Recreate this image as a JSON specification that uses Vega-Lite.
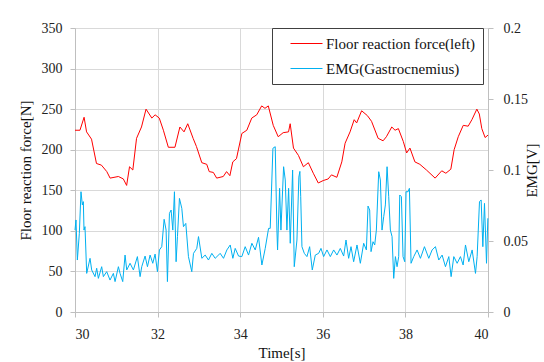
{
  "$schema": "https://vega.github.io/schema/vega-lite/v6.json",
  "width": 413,
  "height": 284,
  "autosize": {"type": "none"},
  "padding": {"left": 75, "top": 28, "right": 56, "bottom": 50},
  "background": "white",
  "config": {
    "font": "Liberation Serif",
    "view": {"stroke": null},
    "axis": {
      "labelFont": "Liberation Serif",
      "titleFont": "Liberation Serif",
      "labelFontSize": 14,
      "titleFontSize": 15,
      "titleFontWeight": "normal",
      "labelColor": "#222222",
      "titleColor": "#111111",
      "domainColor": "#bfbfbf",
      "tickColor": "#bfbfbf",
      "gridColor": "#d9d9d9",
      "tickSize": 5
    },
    "legend": {"labelFont": "Liberation Serif"}
  },
  "datasets": {
    "force": [
      {"t": 30.0, "v": 224}, {"t": 30.12, "v": 224}, {"t": 30.22, "v": 240}, {"t": 30.28, "v": 222},
      {"t": 30.4, "v": 213}, {"t": 30.52, "v": 183}, {"t": 30.64, "v": 181}, {"t": 30.77, "v": 173},
      {"t": 30.85, "v": 165}, {"t": 31.05, "v": 167}, {"t": 31.17, "v": 164}, {"t": 31.25, "v": 156},
      {"t": 31.32, "v": 179}, {"t": 31.4, "v": 175}, {"t": 31.49, "v": 214}, {"t": 31.61, "v": 228},
      {"t": 31.72, "v": 250}, {"t": 31.86, "v": 239}, {"t": 31.94, "v": 243}, {"t": 32.04, "v": 239},
      {"t": 32.14, "v": 224}, {"t": 32.26, "v": 203}, {"t": 32.42, "v": 203}, {"t": 32.54, "v": 228},
      {"t": 32.64, "v": 222}, {"t": 32.73, "v": 232}, {"t": 32.86, "v": 214}, {"t": 32.94, "v": 204},
      {"t": 33.07, "v": 184}, {"t": 33.19, "v": 182}, {"t": 33.25, "v": 173}, {"t": 33.35, "v": 172},
      {"t": 33.43, "v": 165}, {"t": 33.59, "v": 167}, {"t": 33.67, "v": 173}, {"t": 33.75, "v": 168},
      {"t": 33.82, "v": 185}, {"t": 33.91, "v": 189}, {"t": 34.04, "v": 220}, {"t": 34.16, "v": 224},
      {"t": 34.28, "v": 239}, {"t": 34.4, "v": 243}, {"t": 34.52, "v": 254}, {"t": 34.6, "v": 251},
      {"t": 34.68, "v": 254}, {"t": 34.8, "v": 230}, {"t": 34.92, "v": 216}, {"t": 35.04, "v": 221},
      {"t": 35.17, "v": 222}, {"t": 35.21, "v": 232}, {"t": 35.29, "v": 202}, {"t": 35.41, "v": 193},
      {"t": 35.53, "v": 179}, {"t": 35.65, "v": 184}, {"t": 35.77, "v": 171}, {"t": 35.89, "v": 159},
      {"t": 36.01, "v": 162}, {"t": 36.13, "v": 164}, {"t": 36.21, "v": 169}, {"t": 36.34, "v": 166},
      {"t": 36.46, "v": 185}, {"t": 36.54, "v": 208}, {"t": 36.66, "v": 222}, {"t": 36.76, "v": 237},
      {"t": 36.82, "v": 233}, {"t": 36.94, "v": 248}, {"t": 37.08, "v": 242}, {"t": 37.18, "v": 235},
      {"t": 37.34, "v": 214}, {"t": 37.46, "v": 211}, {"t": 37.54, "v": 216}, {"t": 37.67, "v": 228},
      {"t": 37.75, "v": 224}, {"t": 37.83, "v": 226}, {"t": 37.95, "v": 210}, {"t": 38.03, "v": 196},
      {"t": 38.11, "v": 202}, {"t": 38.23, "v": 185}, {"t": 38.35, "v": 182}, {"t": 38.51, "v": 175},
      {"t": 38.72, "v": 165}, {"t": 38.88, "v": 174}, {"t": 38.98, "v": 171}, {"t": 39.1, "v": 176},
      {"t": 39.18, "v": 200}, {"t": 39.28, "v": 216}, {"t": 39.4, "v": 230}, {"t": 39.52, "v": 229},
      {"t": 39.61, "v": 237}, {"t": 39.73, "v": 250}, {"t": 39.79, "v": 244}, {"t": 39.85, "v": 226},
      {"t": 39.93, "v": 215}, {"t": 40.0, "v": 218}
    ],
    "emg": [
      {"t": 30.0, "v": 0.0577}, {"t": 30.024, "v": 0.0648}, {"t": 30.057, "v": 0.0366}, {"t": 30.105, "v": 0.0554},
      {"t": 30.145, "v": 0.0847}, {"t": 30.178, "v": 0.0754}, {"t": 30.202, "v": 0.0777}, {"t": 30.218, "v": 0.0577},
      {"t": 30.242, "v": 0.0601}, {"t": 30.283, "v": 0.0272}, {"t": 30.364, "v": 0.0378}, {"t": 30.404, "v": 0.0296},
      {"t": 30.485, "v": 0.0249}, {"t": 30.525, "v": 0.0308}, {"t": 30.566, "v": 0.0237}, {"t": 30.646, "v": 0.0319},
      {"t": 30.687, "v": 0.0249}, {"t": 30.768, "v": 0.0284}, {"t": 30.848, "v": 0.0225}, {"t": 30.929, "v": 0.0272},
      {"t": 30.97, "v": 0.0214}, {"t": 31.051, "v": 0.0319}, {"t": 31.091, "v": 0.0272}, {"t": 31.156, "v": 0.0214},
      {"t": 31.212, "v": 0.0401}, {"t": 31.253, "v": 0.0296}, {"t": 31.333, "v": 0.0343}, {"t": 31.414, "v": 0.0296},
      {"t": 31.511, "v": 0.039}, {"t": 31.576, "v": 0.0249}, {"t": 31.616, "v": 0.0319}, {"t": 31.697, "v": 0.0394},
      {"t": 31.754, "v": 0.0319}, {"t": 31.818, "v": 0.0401}, {"t": 31.883, "v": 0.0343}, {"t": 31.939, "v": 0.0408},
      {"t": 31.996, "v": 0.0284}, {"t": 32.044, "v": 0.0437}, {"t": 32.101, "v": 0.046}, {"t": 32.158, "v": 0.0653},
      {"t": 32.206, "v": 0.0577}, {"t": 32.238, "v": 0.0214}, {"t": 32.287, "v": 0.0695}, {"t": 32.327, "v": 0.0718},
      {"t": 32.368, "v": 0.0577}, {"t": 32.408, "v": 0.0847}, {"t": 32.448, "v": 0.0354}, {"t": 32.481, "v": 0.0531},
      {"t": 32.529, "v": 0.08}, {"t": 32.586, "v": 0.073}, {"t": 32.626, "v": 0.0601}, {"t": 32.683, "v": 0.0624},
      {"t": 32.747, "v": 0.039}, {"t": 32.828, "v": 0.0284}, {"t": 32.869, "v": 0.0413}, {"t": 32.949, "v": 0.0448},
      {"t": 32.99, "v": 0.0531}, {"t": 33.071, "v": 0.0378}, {"t": 33.152, "v": 0.0401}, {"t": 33.232, "v": 0.0366},
      {"t": 33.313, "v": 0.0413}, {"t": 33.394, "v": 0.0378}, {"t": 33.515, "v": 0.0413}, {"t": 33.596, "v": 0.0378},
      {"t": 33.677, "v": 0.0437}, {"t": 33.758, "v": 0.0472}, {"t": 33.822, "v": 0.0378}, {"t": 33.879, "v": 0.0448},
      {"t": 33.96, "v": 0.0394}, {"t": 34.04, "v": 0.039}, {"t": 34.121, "v": 0.046}, {"t": 34.202, "v": 0.0401},
      {"t": 34.283, "v": 0.0484}, {"t": 34.364, "v": 0.0437}, {"t": 34.444, "v": 0.0526}, {"t": 34.525, "v": 0.0331},
      {"t": 34.606, "v": 0.0448}, {"t": 34.687, "v": 0.0589}, {"t": 34.727, "v": 0.0589}, {"t": 34.792, "v": 0.1153},
      {"t": 34.848, "v": 0.1164}, {"t": 34.889, "v": 0.0577}, {"t": 34.905, "v": 0.0437}, {"t": 34.954, "v": 0.0871},
      {"t": 34.986, "v": 0.0577}, {"t": 35.051, "v": 0.1023}, {"t": 35.091, "v": 0.093}, {"t": 35.131, "v": 0.0577},
      {"t": 35.172, "v": 0.0871}, {"t": 35.212, "v": 0.0484}, {"t": 35.269, "v": 0.1}, {"t": 35.309, "v": 0.0319},
      {"t": 35.374, "v": 0.0507}, {"t": 35.42, "v": 0.095}, {"t": 35.445, "v": 0.099}, {"t": 35.465, "v": 0.0812},
      {"t": 35.495, "v": 0.046}, {"t": 35.552, "v": 0.0413}, {"t": 35.616, "v": 0.039}, {"t": 35.681, "v": 0.046},
      {"t": 35.745, "v": 0.0296}, {"t": 35.818, "v": 0.0401}, {"t": 35.899, "v": 0.0413}, {"t": 35.956, "v": 0.0448},
      {"t": 36.02, "v": 0.039}, {"t": 36.101, "v": 0.0437}, {"t": 36.182, "v": 0.039}, {"t": 36.263, "v": 0.0437},
      {"t": 36.343, "v": 0.0401}, {"t": 36.424, "v": 0.0448}, {"t": 36.505, "v": 0.0394}, {"t": 36.562, "v": 0.0507},
      {"t": 36.626, "v": 0.0378}, {"t": 36.683, "v": 0.046}, {"t": 36.747, "v": 0.0354}, {"t": 36.828, "v": 0.0472},
      {"t": 36.909, "v": 0.0343}, {"t": 36.99, "v": 0.0484}, {"t": 37.055, "v": 0.0437}, {"t": 37.095, "v": 0.0746},
      {"t": 37.135, "v": 0.0718}, {"t": 37.168, "v": 0.0425}, {"t": 37.216, "v": 0.0495}, {"t": 37.257, "v": 0.0472},
      {"t": 37.297, "v": 0.0577}, {"t": 37.354, "v": 0.0988}, {"t": 37.394, "v": 0.093}, {"t": 37.434, "v": 0.0577},
      {"t": 37.475, "v": 0.0671}, {"t": 37.515, "v": 0.0754}, {"t": 37.556, "v": 0.1023}, {"t": 37.596, "v": 0.0812},
      {"t": 37.636, "v": 0.0577}, {"t": 37.677, "v": 0.0531}, {"t": 37.717, "v": 0.0237}, {"t": 37.758, "v": 0.039},
      {"t": 37.798, "v": 0.0319}, {"t": 37.838, "v": 0.039}, {"t": 37.863, "v": 0.0824}, {"t": 37.903, "v": 0.0812},
      {"t": 37.943, "v": 0.039}, {"t": 37.984, "v": 0.0354}, {"t": 38.016, "v": 0.0847}, {"t": 38.065, "v": 0.0847},
      {"t": 38.097, "v": 0.0871}, {"t": 38.137, "v": 0.0343}, {"t": 38.202, "v": 0.039}, {"t": 38.283, "v": 0.0437},
      {"t": 38.364, "v": 0.0378}, {"t": 38.461, "v": 0.046}, {"t": 38.566, "v": 0.0378}, {"t": 38.646, "v": 0.0437},
      {"t": 38.727, "v": 0.046}, {"t": 38.808, "v": 0.0366}, {"t": 38.889, "v": 0.0401}, {"t": 38.97, "v": 0.0319},
      {"t": 39.051, "v": 0.039}, {"t": 39.107, "v": 0.0249}, {"t": 39.172, "v": 0.039}, {"t": 39.253, "v": 0.0343},
      {"t": 39.333, "v": 0.039}, {"t": 39.398, "v": 0.0331}, {"t": 39.455, "v": 0.0472}, {"t": 39.535, "v": 0.0354},
      {"t": 39.616, "v": 0.0437}, {"t": 39.697, "v": 0.0272}, {"t": 39.737, "v": 0.039}, {"t": 39.794, "v": 0.0777},
      {"t": 39.834, "v": 0.0789}, {"t": 39.875, "v": 0.046}, {"t": 39.915, "v": 0.0765}, {"t": 39.964, "v": 0.0343},
      {"t": 39.996, "v": 0.066}
    ]
  },
  "layer": [
    {
      "data": {"name": "force"},
      "mark": {"type": "line", "strokeWidth": 1, "interpolate": "linear"},
      "encoding": {
        "x": {
          "field": "t", "type": "quantitative",
          "scale": {"domain": [30, 40], "nice": false},
          "axis": {"values": [30, 32, 34, 36, 38, 40], "title": "Time[s]", "labelFont": "Times New Roman", "labelFontSize": 14, "labelPadding": 10, "titlePadding": 4, "grid": true}
        },
        "y": {
          "field": "v", "type": "quantitative",
          "scale": {"domain": [0, 350], "nice": false},
          "axis": {"values": [0, 50, 100, 150, 200, 250, 300, 350], "title": "Floor reaction force[N]", "labelFont": "Times New Roman", "labelFontSize": 14, "labelPadding": 8, "titlePadding": 8, "grid": true}
        },
        "color": {
          "datum": "Floor reaction force(left)",
          "type": "nominal",
          "scale": {"domain": ["Floor reaction force(left)", "EMG(Gastrocnemius)"], "range": ["#ff0000", "#00b0f0"]},
          "legend": {
            "title": null,
            "orient": "none",
            "legendX": 197,
            "legendY": 0,
            "direction": "vertical",
            "strokeColor": "#404040",
            "fillColor": "white",
            "padding": 7,
            "symbolType": "M-2,0H2",
            "symbolSize": 256,
            "symbolStrokeWidth": 1,
            "symbolOffset": 19,
            "labelOffset": 11,
            "labelFont": "Liberation Serif",
            "labelFontSize": 15,
            "labelColor": "#111111",
            "labelLimit": 300,
            "labelExpr": "datum.label + '  '",
            "rowPadding": 8
          }
        }
      }
    },
    {
      "data": {"name": "emg"},
      "mark": {"type": "line", "strokeWidth": 1, "interpolate": "linear"},
      "encoding": {
        "x": {"field": "t", "type": "quantitative", "scale": {"domain": [30, 40], "nice": false}},
        "y": {
          "field": "v", "type": "quantitative",
          "scale": {"domain": [0, 0.2], "nice": false},
          "axis": {"orient": "right", "values": [0, 0.05, 0.1, 0.15, 0.2], "labelExpr": "'' + datum.value", "labelFont": "Times New Roman", "labelFontSize": 14, "title": "EMG[V]", "titleAngle": 270, "labelPadding": 10, "titlePadding": 12, "grid": false}
        },
        "color": {"datum": "EMG(Gastrocnemius)", "type": "nominal"}
      }
    }
  ],
  "resolve": {"scale": {"y": "independent"}, "axis": {"y": "independent"}}
}
